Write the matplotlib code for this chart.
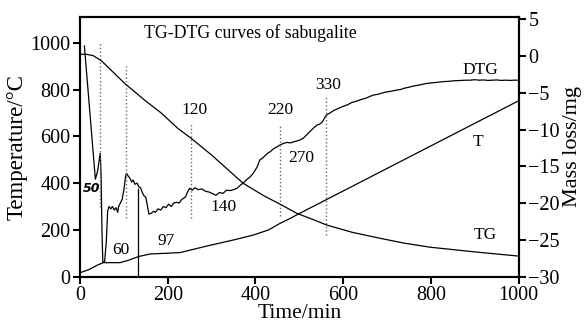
import matplotlib.pyplot as plt
import numpy as np

plt.rcParams["font.family"] = "serif"
plt.rcParams["font.serif"] = ["Liberation Serif"]
plt.rcParams["mathtext.fontset"] = "stix"

# DTG curve (plotted against left axis units)
dtg_t = [10, 35, 40, 44, 46, 48, 50, 52, 56, 60, 63, 66, 70, 74, 78, 82, 86, 88, 92, 96,
         100, 104, 106, 110, 114, 118, 121, 125, 130, 134, 138, 142, 146, 150, 154, 157,
         162, 168, 172, 178, 184, 190, 196, 202, 208, 214, 220, 226, 232, 240, 246, 250,
         256, 262, 270, 278, 286, 294, 302, 310, 318, 326, 334, 342, 350, 358, 366, 372,
         380, 388, 396, 404, 410, 418, 426, 434, 442, 450, 456, 464, 472, 480, 490, 501,
         509, 516, 524, 532, 540, 546, 552, 558, 562, 570, 580, 590, 600, 610, 620, 630,
         640, 650, 660, 668, 680, 690, 700, 710, 720, 730, 740, 750, 760, 770, 780, 790,
         800, 810, 820, 830, 840, 850, 860, 870, 880, 890, 900, 910, 920, 930, 940, 950,
         960, 970, 980, 990, 1000]
dtg_v = [986, 417, 450, 500, 528, 440, 200, 63, 63, 150, 280, 300, 290, 300, 285, 295, 275, 300, 315, 330,
         370, 430, 442, 430, 420, 405, 413, 395, 400, 385, 380, 360, 345, 340, 300, 268,
         270, 280, 275, 290, 285, 300, 295, 310, 300, 315, 318, 315, 330, 340, 365, 378,
         370, 380, 372, 375, 365, 362, 355, 348, 360, 356, 370, 368, 372, 378, 392, 400,
         415, 427, 445, 470, 499, 510, 525, 535, 548, 556, 563, 570, 574, 572, 578, 584,
         592, 605, 620, 635, 648, 652, 660, 680, 691, 700, 712, 720, 728, 735, 745, 750,
         757, 762, 770, 776, 780, 786, 790, 793, 797, 800, 806, 810, 815, 818, 822, 826,
         828, 830, 832, 834, 835, 837, 838, 839, 840, 840, 842, 840, 841, 839, 840, 841,
         839, 840, 839, 840, 840]

# temperature curve
temp_t = [0, 20, 40, 53, 91, 110, 133, 160, 228, 289, 350, 395, 430, 456, 480, 501, 1000]
temp_v = [17, 30, 50, 60, 60, 70, 86, 97, 103, 131, 157, 178, 200, 228, 250, 271, 752]

# TG mass loss (right axis, mg)
tg_t = [0, 14, 30, 49, 75, 102, 147, 185, 223, 251, 300, 372, 420, 456, 494, 530, 562,
        620, 684, 740, 798, 900, 1000]
tg_m = [0.24, 0.24, 0.05, -0.65, -2.17, -3.73, -5.99, -7.74, -9.84, -11.08, -13.46, -17.31,
        -19.03, -20.14, -21.38, -22.2, -22.97, -23.96, -24.78, -25.45, -25.99, -26.63, -27.2]

# dotted marker lines: x, bottom, top
mark_x = [46, 105, 252, 456, 560]
mark_lo = [299, 249, 252, 259, 178]
mark_hi = [1004, 902, 655, 648, 776]

labels = ["60", "97", "120", "140", "220", "270", "330"]
label_x = [94, 196, 262, 327, 456, 505, 566]
label_y = [114, 154, 712, 299, 712, 506, 819]

fig = plt.figure(figsize=(5.87, 3.24), dpi=100)
ax = fig.add_axes([0.1363, 0.146, 0.7473, 0.8015])
ax2 = ax.twinx()

ax.plot(dtg_t, dtg_v, color='black', lw=0.9)
ax.plot(temp_t, temp_v, color='black', lw=0.9)
ax2.plot(tg_t, tg_m, color='black', lw=0.9)
ax.vlines(133, 0, 380, color='black', lw=0.9)
ax.vlines(mark_x, mark_lo, mark_hi, color='dimgray', lw=1, linestyles=':')

for s, x, y in zip(labels, label_x, label_y):
    ax.text(x, y, s, fontsize=12.5, ha='center', va='center')
ax.text(26, 378, "50", fontsize=9, ha='center', va='center', family='DejaVu Sans',
        fontweight='bold', fontstyle='italic')
ax.text(912, 883, "DTG", fontsize=12.5, ha='center', va='center')
ax.text(908, 577, "T", fontsize=12.5, ha='center', va='center')
ax.text(923, 178, "TG", fontsize=12.5, ha='center', va='center')
ax.text(0.388, 0.938, "TG-DTG curves of sabugalite", transform=ax.transAxes,
        fontsize=12.8, ha='center', va='center')

ax.set_xlim(0, 1000)
ax.set_ylim(0, 1110)
ax2.set_ylim(-30, 5.3)
ax.set_xticks(np.arange(0, 1001, 200))
ax.set_yticks(np.arange(0, 1001, 200))
ax2.set_yticks(np.arange(-30, 6, 5))
ax2.set_yticklabels(["\u221230", "\u221225", "\u221220", "\u221215", "\u221210", "\u22125", "0", "5"])

for a in (ax, ax2):
    for sp in a.spines.values():
        sp.set_linewidth(1.5)
    a.tick_params(labelsize=14.5, width=1.5, length=5, direction='out', pad=2)

ax.set_xlabel("Time/min", fontsize=15.5, labelpad=-1)
ax.set_ylabel("Temperature/\u00b0C", fontsize=16.5, labelpad=2)
ax2.set_ylabel("Mass loss/mg", fontsize=16, labelpad=2)

fig.savefig("out.png", dpi=100)
